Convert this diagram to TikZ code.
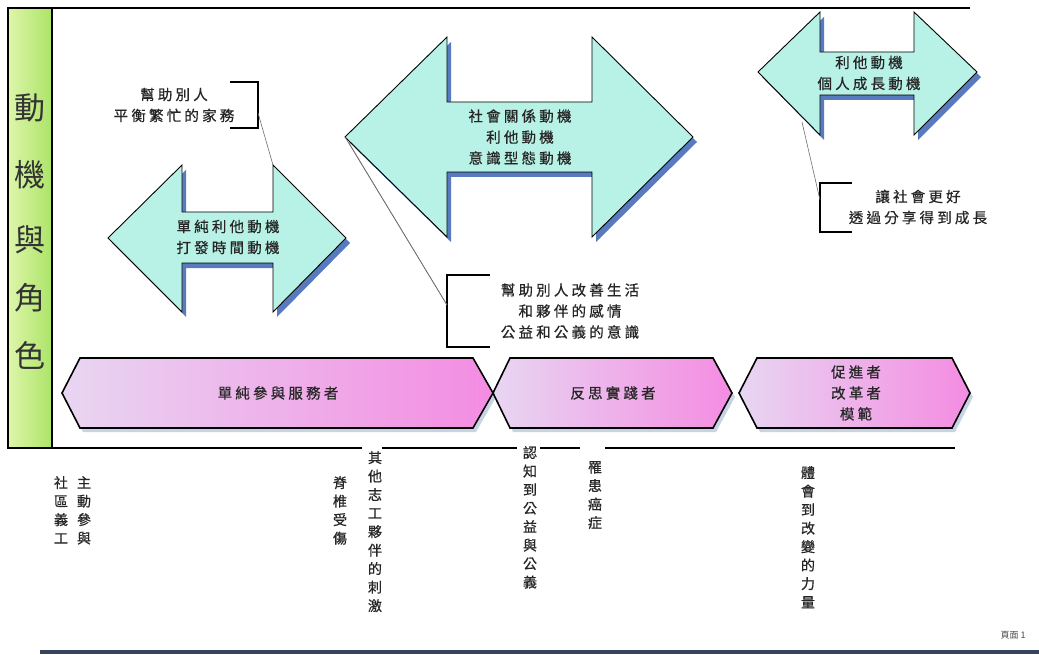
\documentclass[tikz,border=0pt]{standalone}
\usepackage{fontspec}
\setmainfont{Noto Sans CJK TC}
\newfontfamily\heavycjk{Noto Sans CJK TC}[FakeBold=0.6, LetterSpace=22]
\newfontfamily\heavyvcjk{Noto Sans CJK TC}[FakeBold=0.6]
\usetikzlibrary{calc}
\definecolor{arrowfill}{RGB}{184,242,230}
\definecolor{arrowshadow}{RGB}{88,122,190}
\definecolor{hexleft}{RGB}{232,214,242}
\definecolor{hexmid}{RGB}{240,172,232}
\definecolor{hexright}{RGB}{244,140,226}
\definecolor{hexshadow}{RGB}{200,212,228}
\definecolor{barleft}{RGB}{222,246,170}
\definecolor{barright}{RGB}{172,228,104}
\definecolor{leader}{RGB}{110,110,110}
\definecolor{footbar}{RGB}{52,68,92}
\tikzset{
  arrowbody/.style={draw=black, line width=0.9pt, fill=arrowfill, line join=miter},
  arrowshade/.style={fill=arrowshadow, draw=none},
  hexbody/.style={draw=black, line width=1.6pt, left color=hexleft, middle color=hexmid, right color=hexright, line join=miter},
  hexshade/.style={fill=hexshadow, draw=none},
  frameline/.style={draw=black, line width=1.8pt},
  bracketline/.style={draw=black, line width=1.8pt},
  leaderline/.style={draw=leader, line width=0.6pt},
  midtext/.style={font=\heavycjk\fontsize{14.5}{21}\selectfont, align=center, inner sep=0pt, text=black!85},
  vtext/.style={font=\heavyvcjk\fontsize{14}{18.5}\selectfont, align=center, inner sep=0pt, anchor=north, text=black!85},
  bigtext/.style={font=\fontsize{31}{31}\selectfont, inner sep=0pt, text=black!80}
}
% #1 left tip x, #2 tip y, #3 left base x, #4 right base x, #5 right tip x,
% #6 head top y, #7 head bottom y, #8 shaft top y, #9 shaft bottom y
\newcommand\DArrowPath[9]{(#1,#2) -- (#3,#6) -- (#3,#8) -- (#4,#8) -- (#4,#6) -- (#5,#2) -- (#4,#7) -- (#4,#9) -- (#3,#9) -- (#3,#7) -- cycle}
\begin{document}
\begin{tikzpicture}[x=1pt,y=-1pt]
\useasboundingbox (0,0) rectangle (1039,655);
\fill[white] (0,0) rectangle (1039,655);

% green side bar
\path[left color=barleft, right color=barright, draw=black, line width=1.5pt] (8,8) rectangle (52,448);
\node[bigtext] (t1) at (30,108) {動};
\node[bigtext] (t2) at (30,175) {機};
\node[bigtext] (t3) at (30,240) {與};
\node[bigtext] (t4) at (30,298) {角};
\node[bigtext] (t5) at (30,355) {色};

% frame lines
\draw[frameline] (52,8) -- (970,8);
\draw[frameline] (8,448) -- (362,448);
\draw[frameline] (382,448) -- (517,448);
\draw[frameline] (540,448) -- (580,448);
\draw[frameline] (605,448) -- (955,448);

% double arrows (shadow first)
\begin{scope}[shift={(4,5)}]
  \fill[arrowshade] \DArrowPath{108}{238}{182}{273}{346}{165}{312}{212}{263};
  \fill[arrowshade] \DArrowPath{345}{137}{447}{592}{693}{37}{237}{102}{172};
  \fill[arrowshade] \DArrowPath{758}{72}{820}{914}{977}{12}{135}{52}{95};
\end{scope}
\path[arrowbody] \DArrowPath{108}{238}{182}{273}{346}{165}{312}{212}{263};
\path[arrowbody] \DArrowPath{345}{137}{447}{592}{693}{37}{237}{102}{172};
\path[arrowbody] \DArrowPath{758}{72}{820}{914}{977}{12}{135}{52}{95};

\coordinate (a1corner) at (273,165);
\coordinate (a2tip) at (345,137);
\coordinate (a3edge) at (802,122);

\node[midtext] (a1) at (228,237) {單純利他動機\\打發時間動機};
\node[midtext] (a2) at (520,137) {社會關係動機\\利他動機\\意識型態動機};
\node[midtext] (a3) at (869,73) {利他動機\\個人成長動機};

% callouts
\node[midtext] (c1) at (174,105) {幫助別人\\平衡繁忙的家務};
\draw[bracketline] (230,82) -- (258,82) -- (258,128) -- (230,128);
\coordinate (c1lead) at (258,113);
\draw[leaderline] (c1lead) -- (a1corner);

\node[midtext] (c2) at (570,311) {幫助別人改善生活\\和夥伴的感情\\公益和公義的意識};
\draw[bracketline] (490,275) -- (447,275) -- (447,347) -- (490,347);
\coordinate (c2lead) at (447,305);
\draw[leaderline] (a2tip) -- (c2lead);
\draw[leaderline] ($(a2tip)+(4,6)$) -- (c2lead);

\node[midtext] (c3) at (918,207) {讓社會更好\\透過分享得到成長};
\draw[bracketline] (852,183) -- (820,183) -- (820,232) -- (852,232);
\coordinate (c3lead) at (820,200);
\draw[leaderline] (a3edge) -- (c3lead);

% hexagon role bars
\begin{scope}[shift={(3,4)}]
  \fill[hexshade] (62,393) -- (80,358) -- (473,358) -- (493,393) -- (473,428) -- (80,428) -- cycle;
  \fill[hexshade] (493,393) -- (510,358) -- (713,358) -- (732,393) -- (713,428) -- (510,428) -- cycle;
  \fill[hexshade] (739,393) -- (757,358) -- (952,358) -- (970,393) -- (952,428) -- (757,428) -- cycle;
\end{scope}
\path[hexbody] (62,393) -- (80,358) -- (473,358) -- (493,393) -- (473,428) -- (80,428) -- cycle;
\path[hexbody] (493,393) -- (510,358) -- (713,358) -- (732,393) -- (713,428) -- (510,428) -- cycle;
\path[hexbody] (739,393) -- (757,358) -- (952,358) -- (970,393) -- (952,428) -- (757,428) -- cycle;
\node[midtext] (h1) at (278,393) {單純參與服務者};
\node[midtext] (h2) at (613,393) {反思實踐者};
\node[midtext] (h3) at (856,393) {促進者\\改革者\\模範};

% vertical texts below
\node[vtext] (v1) at (61,476) {社\\區\\義\\工};
\node[vtext] (v2) at (84,476) {主\\動\\參\\與};
\node[vtext] (v3) at (340,476) {脊\\椎\\受\\傷};
\node[vtext] (v4) at (375,451) {其\\他\\志\\工\\夥\\伴\\的\\刺\\激};
\node[vtext] (v5) at (530,446) {認\\知\\到\\公\\益\\與\\公\\義};
\node[vtext] (v6) at (595,461) {罹\\患\\癌\\症};
\node[vtext] (v7) at (808,466) {體\\會\\到\\改\\變\\的\\力\\量};

% footer
\node[font=\fontsize{9}{9}\selectfont, inner sep=0pt, text=black!70] (pg) at (1013,635) {頁面 1};
\draw[draw=footbar, line width=3.5pt] (40,652) -- (1039,652);
\end{tikzpicture}
\end{document}
